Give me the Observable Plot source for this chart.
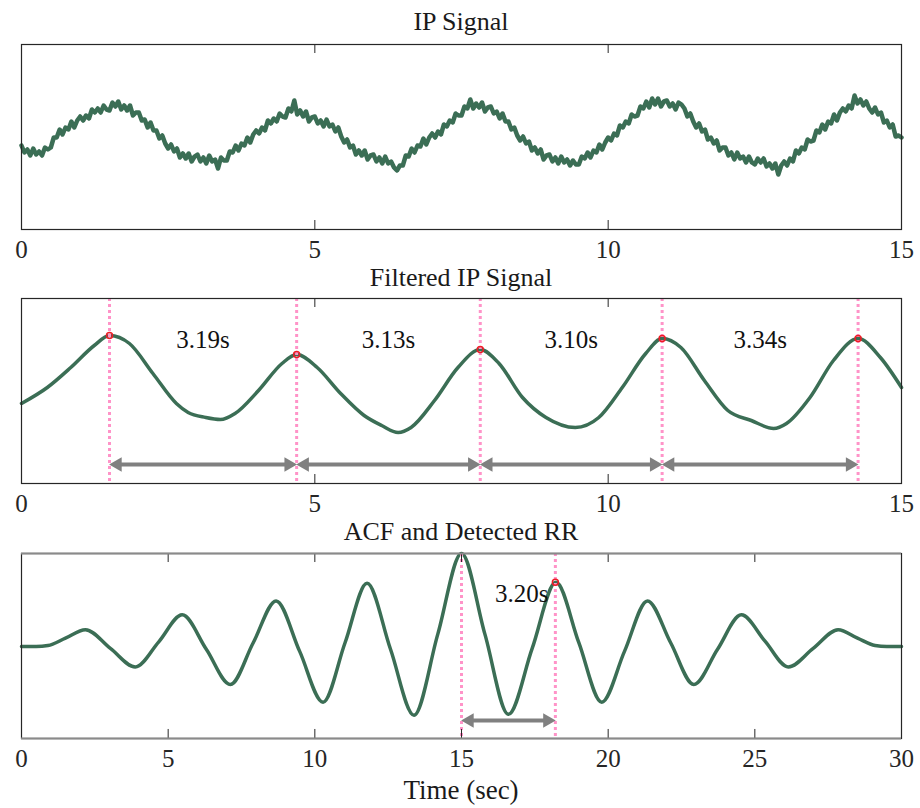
<!DOCTYPE html>
<html><head><meta charset="utf-8">
<script src="https://cdn.jsdelivr.net/npm/d3@7"></script>
<script src="https://cdn.jsdelivr.net/npm/@observablehq/plot@0.6"></script>
<style>
body{margin:0;background:#fff;}
#wrap{position:relative;width:920px;height:808px;font-family:'Liberation Serif','DejaVu Serif',serif;overflow:hidden;}
.title{position:absolute;left:21px;width:880px;text-align:center;font-size:26px;line-height:26px;color:#1a1a1a;white-space:nowrap;}
.xlabel{font-size:27px;}
.panel{position:absolute;left:0;}
</style></head><body><div id="wrap"></div>
<script>
// ---------- Data ----------
const titles = ["IP Signal", "Filtered IP Signal", "ACF and Detected RR"];
const xLabel = "Time (sec)";
const ticks15 = [0, 5, 10, 15];
const ticks30 = [0, 5, 10, 15, 20, 25, 30];

// Raw IP signal, sampled every 0.05 s from 0 to 15 s (arbitrary units)
const ipValues = [
 -0.9,-1.6,-1.3,-1.9,-1.2,-1.8,-1.5,-1.9,-1.1,-1.3,
 -1.1,-0.1,-0.1,0.7,0.2,0.9,0.7,1.5,0.9,1.6,
 2.0,1.6,2.1,1.8,2.7,2.4,2.8,2.4,3.1,2.7,
 2.6,3.4,3.0,3.5,2.7,3.1,2.6,3.1,2.1,2.4,
 2.4,1.6,1.7,0.9,1.4,0.6,0.6,-0.2,0.1,-0.7,
 -1.2,-0.8,-1.5,-1.2,-2.1,-1.7,-2.2,-1.7,-2.5,-2.0,
 -1.8,-2.5,-2.1,-2.7,-1.9,-2.5,-2.3,-3.2,-2.1,-2.4,
 -2.4,-1.5,-1.6,-0.9,-1.4,-0.7,-0.9,-0.1,-0.6,0.2,
 0.6,0.3,0.9,0.6,1.6,1.3,1.8,1.5,2.3,2.0,
 1.9,2.8,2.5,3.6,2.2,2.6,2.0,2.5,1.5,1.9,
 2.0,1.3,1.6,1.0,1.7,1.0,1.2,0.5,0.9,0.0,
 -0.6,-0.3,-1.1,-0.9,-1.8,-1.4,-1.9,-1.4,-2.3,-1.9,
 -1.8,-2.5,-2.1,-2.7,-2.0,-2.7,-2.5,-3.1,-3.4,-2.9,
 -2.9,-1.9,-2.0,-1.2,-1.6,-0.9,-1.0,-0.2,-0.8,-0.1,
 0.3,-0.1,0.5,0.2,1.2,1.0,1.6,1.4,2.3,2.1,
 2.1,3.0,2.8,3.7,2.8,3.3,2.9,3.4,2.5,2.9,
 3.0,2.3,2.5,1.8,2.3,1.5,1.5,0.7,0.9,0.1,
 -0.4,0.0,-0.7,-0.5,-1.4,-1.1,-1.7,-1.3,-2.3,-1.9,
 -1.8,-2.5,-2.1,-2.7,-2.0,-2.6,-2.3,-2.9,-2.4,-2.8,
 -2.8,-2.0,-2.2,-1.6,-2.1,-1.4,-1.6,-0.8,-1.3,-0.6,
 -0.1,-0.4,0.3,0.1,1.1,0.9,1.5,1.3,2.2,2.0,
 2.1,3.0,2.8,3.5,2.9,3.8,3.2,3.8,3.0,3.5,
 3.6,3.0,3.3,2.7,3.4,3.2,2.8,2.0,2.3,1.5,
 0.9,1.3,0.5,0.7,-0.3,-0.1,-0.7,-0.4,-1.4,-1.1,
 -1.1,-1.9,-1.6,-2.3,-1.6,-2.2,-2.0,-2.6,-2.0,-2.6,
 -2.8,-2.2,-2.6,-2.2,-3.0,-2.7,-3.2,-2.7,-3.8,-2.9,
 -2.5,-2.9,-2.2,-2.5,-1.4,-1.7,-1.1,-1.3,-0.3,-0.5,
 -0.4,0.6,0.4,1.2,0.7,1.5,1.3,2.2,1.6,2.4,
 2.8,2.5,3.1,2.8,4.1,3.3,3.7,3.1,3.5,2.8,
 2.4,2.9,2.2,2.4,1.4,1.6,0.9,1.2,0.0,0.1,
 -0.1
];
const ipTimes = ipValues.map((_, i) => i / 20);

// Filtered IP signal
const filtTimes = [0, 0.44, 0.84, 1.24, 1.50, 1.84, 2.24, 2.64, 2.84, 3.14, 3.39, 3.64, 4.04, 4.44, 4.69, 5.04, 5.44, 5.84, 6.14, 6.42, 6.64, 7.04, 7.44, 7.82, 8.14, 8.54, 8.94, 9.44, 9.84, 10.24, 10.64, 10.92, 11.24, 11.64, 12.04, 12.44, 12.82, 13.04, 13.44, 13.84, 14.26, 14.64, 15];
const filtValues = [-1.2, 0.4, 2.4, 4.6, 5.6, 4.8, 1.8, -1.2, -2.1, -2.6, -2.8, -2.2, 0.1, 2.8, 3.7, 2.4, -0.2, -2.4, -3.4, -4.1, -3.6, -0.9, 2.4, 4.2, 2.8, -0.6, -2.6, -3.6, -2.6, 0.4, 3.8, 5.3, 4.4, 1.1, -1.9, -2.9, -3.7, -3.2, -0.6, 3.1, 5.3, 3.4, 0.4];
const peakTimes = [1.50, 4.69, 7.82, 10.92, 14.26];
const peakValues = [5.6, 3.7, 4.2, 5.3, 5.3];
const intervalLabels = ["3.19s", "3.13s", "3.10s", "3.34s"];

// Autocorrelation function
const acfLags = [0, 0.5, 0.9, 1.5, 2.18, 3.03, 3.88, 4.68, 5.48, 6.30, 7.12, 7.90, 8.68, 9.48, 10.28, 11.03, 11.78, 12.58, 13.38, 14.19, 15.0, 15.8, 16.60, 17.41, 18.22, 19.0, 19.78, 20.56, 21.34, 22.13, 22.92, 23.73, 24.54, 25.34, 26.14, 26.99, 27.84, 28.5, 29.1, 29.5, 30];
const acfValues = [0, 0, 0.01, 0.09, 0.18, -0.02, -0.22, 0.05, 0.34, -0.03, -0.41, 0.04, 0.49, -0.05, -0.60, 0.04, 0.68, -0.03, -0.74, 0.13, 1.0, 0.13, -0.73, -0.02, 0.69, 0.04, -0.60, -0.05, 0.49, 0.04, -0.41, -0.03, 0.34, 0.06, -0.22, -0.02, 0.18, 0.09, 0.01, 0, 0];
const acfRefLag = 15.0;
const acfDetectedLag = 18.2;
const acfDetectedValue = 0.69;
const acfLabel = "3.20s";

// ---------- Styles ----------
const GREEN = "#3b6e55";
const PINK = "#ff93c8";
const GRAY = "#808080";
const RED = "#ee1c25";
const INK = "#262626";
const FONT = "'Liberation Serif','DejaVu Serif',serif";

const ipData = ipTimes.map((t, i) => ({t, v: ipValues[i]}));
const filtData = filtTimes.map((t, i) => ({t, v: filtValues[i]}));
const acfData = acfLags.map((t, i) => ({t, v: acfValues[i]}));
const peaks = peakTimes.map((t, i) => ({t, v: peakValues[i]}));
const intervals = intervalLabels.map((label, i) => ({start: peakTimes[i], end: peakTimes[i + 1], label}));
const acfInterval = [{start: acfRefLag, end: acfDetectedLag, label: acfLabel}];

const wrap = document.getElementById("wrap");
const boxH = 185;

function innerTicks(ticks, dom, lenUnits) {
  const inner = ticks.slice(1, -1);
  return [
    Plot.ruleX(inner, {x: d => d, y1: dom[0], y2: dom[0] + lenUnits, stroke: INK, strokeWidth: 1}),
    Plot.ruleX(inner, {x: d => d, y1: dom[1], y2: dom[1] - lenUnits, stroke: INK, strokeWidth: 1})
  ];
}

function arrowMarks(data, y) {
  return [
    Plot.ruleY(data, {x1: "start", x2: "end", y: () => y, stroke: GRAY, strokeWidth: 4, insetLeft: 6, insetRight: 6}),
    Plot.dot(data, {x: "start", y: () => y, symbol: "triangle", r: 5.4, fill: GRAY, stroke: "none", rotate: -90, dx: 8}),
    Plot.dot(data, {x: "end", y: () => y, symbol: "triangle", r: 5.4, fill: GRAY, stroke: "none", rotate: 90, dx: -8})
  ];
}

function makePanel({xDomain, yDomain, ticks, tickLen, marks, top, frameGrayTB}) {
  const chart = Plot.plot({
    width: 920, height: 2 + boxH + 40,
    marginLeft: 21, marginRight: 19, marginTop: 2, marginBottom: 40,
    x: {domain: xDomain, label: null},
    y: {domain: yDomain, axis: null, label: null},
    style: {fontFamily: FONT, fontSize: "25px", color: INK, background: "transparent", overflow: "visible"},
    marks: [
      ...marks,
      ...innerTicks(ticks, yDomain, tickLen),
      Plot.frame({stroke: INK, strokeWidth: 1.2}),
      ...(frameGrayTB ? [Plot.ruleY(yDomain, {stroke: "#8a8a8a", strokeWidth: 2.2})] : []),
      Plot.axisX({ticks, tickSize: 0, tickPadding: 11, tickFormat: d => String(d), fontSize: 25, label: null})
    ]
  });
  chart.classList.add("panel");
  chart.style.top = (top - 2) + "px";
  wrap.appendChild(chart);
}

function addText(text, baseline, cls) {
  const d = document.createElement("div");
  d.className = cls;
  d.textContent = text;
  d.style.top = (baseline - 21.8) + "px";
  wrap.appendChild(d);
}

// Panel 1
addText(titles[0], 31, "title");
makePanel({
  xDomain: [0, 15], yDomain: [-9.3, 9.2], ticks: ticks15, tickLen: 0.9, top: 44,
  marks: [Plot.line(ipData, {x: "t", y: "v", stroke: GREEN, strokeWidth: 4.5, strokeLinejoin: "round"})]
});

// Panel 2
addText(titles[1], 287, "title");
makePanel({
  xDomain: [0, 15], yDomain: [-9.2, 9.3], ticks: ticks15, tickLen: 0.9, top: 298,
  marks: [
    Plot.line(filtData, {x: "t", y: "v", curve: "monotone-x", stroke: GREEN, strokeWidth: 3.5}),
    Plot.ruleX(peakTimes, {x: d => d, stroke: PINK, strokeWidth: 3, strokeDasharray: "3,3"}),
    ...arrowMarks(intervals, -7.3),
    Plot.dot(peaks, {x: "t", y: "v", r: 3, stroke: RED, strokeWidth: 1.5, fill: "none"}),
    Plot.text(intervals, {x: d => (d.start + d.end) / 2, y: () => 5.2, text: "label", fontSize: 25, fontFamily: FONT, fill: "#111"})
  ]
});

// Panel 3
addText(titles[2], 541, "title");
makePanel({
  xDomain: [0, 30], yDomain: [-0.99, 1.0], ticks: ticks30, tickLen: 0.097, top: 553, frameGrayTB: true,
  marks: [
    Plot.line(acfData, {x: "t", y: "v", curve: "monotone-x", stroke: GREEN, strokeWidth: 3.5}),
    Plot.ruleX([acfRefLag, acfDetectedLag], {x: d => d, stroke: PINK, strokeWidth: 3, strokeDasharray: "3,3"}),
    ...arrowMarks(acfInterval, -0.796),
    Plot.dot([{t: acfDetectedLag, v: acfDetectedValue}], {x: "t", y: "v", r: 3, stroke: RED, strokeWidth: 1.5, fill: "none"}),
    Plot.text(acfInterval, {x: "end", y: () => 0.56, text: "label", textAnchor: "end", dx: -7, fontSize: 25, fontFamily: FONT, fill: "#111"})
  ]
});
addText(xLabel, 799, "title xlabel");
</script></body></html>
